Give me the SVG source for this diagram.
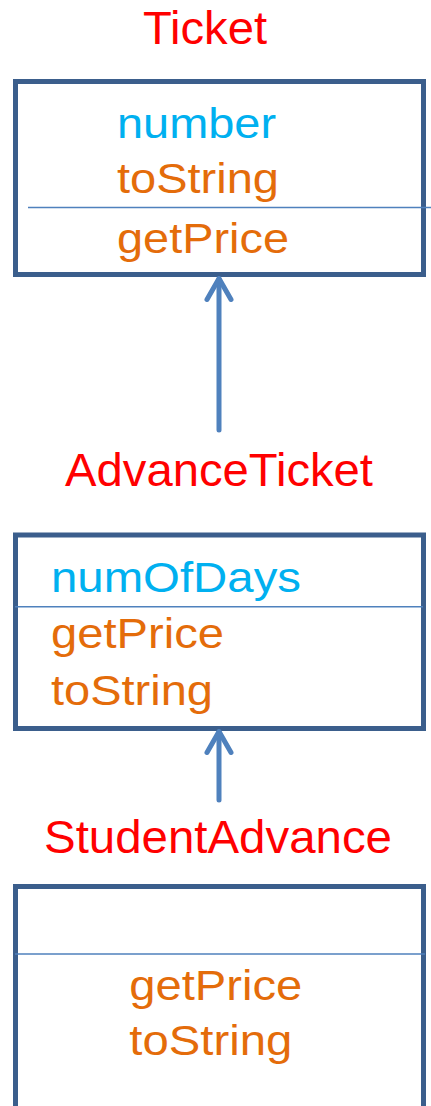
<svg xmlns="http://www.w3.org/2000/svg" width="431" height="1106" viewBox="0 0 431 1106">
<style>
.box{fill:#ffffff;stroke:#3b5e8c;stroke-width:5}
.div{stroke:#4f81bd;stroke-width:1.5}
.title{font-family:"Liberation Sans",Arial,sans-serif;font-size:46px;fill:#ff0000}
.mem{font-family:"Liberation Sans",Arial,sans-serif;font-size:43px}
.attr{fill:#00b0f0}
.op{fill:#e46c0a}
.arrow{fill:none;stroke:#4f81bd;stroke-width:5;stroke-linecap:round;stroke-linejoin:round}
</style>
<rect width="431" height="1106" fill="#ffffff"/>
<g id="Ticket">
<text class="title" x="143" y="43.5" textLength="124" lengthAdjust="spacingAndGlyphs">Ticket</text>
<rect class="box" x="15.5" y="81.5" width="408" height="193"/>
<line class="div" x1="28" y1="207.5" x2="431" y2="207.5"/>
<text class="mem attr" x="117" y="138.3" textLength="159" lengthAdjust="spacingAndGlyphs">number</text>
<text class="mem op" x="117" y="193.3" textLength="162" lengthAdjust="spacingAndGlyphs">toString</text>
<text class="mem op" x="117" y="252.7" textLength="172" lengthAdjust="spacingAndGlyphs">getPrice</text>
</g>
<g id="AdvanceTicket">
<text class="title" x="65" y="486" textLength="308" lengthAdjust="spacingAndGlyphs">AdvanceTicket</text>
<rect class="box" x="15.5" y="535" width="408" height="193.5"/>
<line class="div" x1="15" y1="606.7" x2="423" y2="606.7"/>
<text class="mem attr" x="51" y="591.7" textLength="250" lengthAdjust="spacingAndGlyphs">numOfDays</text>
<text class="mem op" x="51" y="648.3" textLength="173" lengthAdjust="spacingAndGlyphs">getPrice</text>
<text class="mem op" x="51" y="705" textLength="162" lengthAdjust="spacingAndGlyphs">toString</text>
</g>
<g id="StudentAdvance">
<text class="title" x="44" y="853.3" textLength="348" lengthAdjust="spacingAndGlyphs">StudentAdvance</text>
<rect class="box" x="15.5" y="886.5" width="408" height="222"/>
<line class="div" x1="15" y1="954" x2="425" y2="954"/>
<text class="mem op" x="129.3" y="1000" textLength="173" lengthAdjust="spacingAndGlyphs">getPrice</text>
<text class="mem op" x="129.3" y="1055" textLength="163" lengthAdjust="spacingAndGlyphs">toString</text>
</g>
<g id="connectors">
<line class="arrow" x1="219" y1="430" x2="219" y2="279"/>
<polyline class="arrow" points="207,299.5 219,278.5 231,299.5"/>
<line class="arrow" x1="219" y1="800" x2="219" y2="732"/>
<polyline class="arrow" points="207,752.5 219,731.5 231,752.5"/>
</g>
</svg>
